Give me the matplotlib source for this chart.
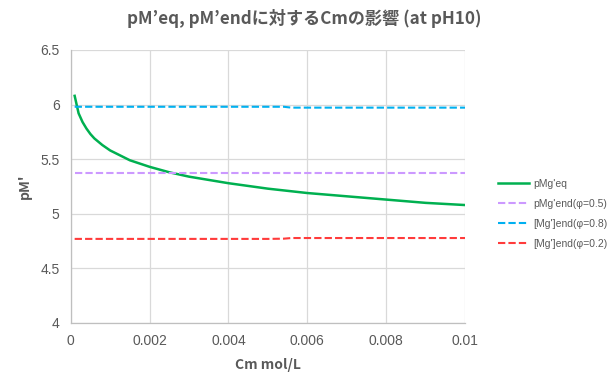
import numpy as np
import matplotlib
matplotlib.use("Agg")
from matplotlib import pyplot as plt

# data
cm = [0.0001, 0.0002, 0.0003, 0.0004, 0.0005, 0.0006, 0.0008, 0.001, 0.0015,
      0.002, 0.0025, 0.003, 0.004, 0.005, 0.006, 0.007, 0.008, 0.009, 0.01]
pm_eq = [6.08, 5.92, 5.84, 5.78, 5.73, 5.69, 5.63, 5.58, 5.49,
         5.43, 5.38, 5.34, 5.28, 5.23, 5.19, 5.16, 5.13, 5.10, 5.08]

cm_end = [0.0001, 0.001, 0.002, 0.003, 0.004, 0.005, 0.0054, 0.0056, 0.007, 0.008, 0.009, 0.01]
pm_end05 = [5.375] * len(cm_end)
pm_end08 = [5.98, 5.98, 5.98, 5.98, 5.98, 5.98, 5.98, 5.972, 5.972, 5.972, 5.972, 5.972]
pm_end02 = [4.77, 4.77, 4.77, 4.77, 4.77, 4.77, 4.772, 4.778, 4.778, 4.778, 4.778, 4.778]

labels = ["pMg'eq", "pMg'end(φ=0.5)", "[Mg']end(φ=0.8)", "[Mg']end(φ=0.2)"]
xticks = [0, 0.002, 0.004, 0.006, 0.008, 0.01]
xticklabels = ["0", "0.002", "0.004", "0.006", "0.008", "0.01"]
yticks = [4, 4.5, 5, 5.5, 6, 6.5]
yticklabels = ["4", "4.5", "5", "5.5", "6", "6.5"]

txt = "#595959"
fam = ["Noto Sans CJK JP", "DejaVu Sans"]
plt.rcParams['font.family'] = ["Liberation Sans", "DejaVu Sans"]

fig = plt.figure(figsize=(6.08, 3.83), dpi=100)
ax = fig.add_axes([0.1163, 0.1567, 0.765 - 0.1163, 0.8695 - 0.1567])

ax.plot(cm, pm_eq, '-', color="#00B050", linewidth=1.8, label=labels[0])
ax.plot(cm_end, pm_end05, '--', color="#CC99FF", linewidth=1.5, dashes=(3.5, 1.5), label=labels[1])
ax.plot(cm_end, pm_end08, '--', color="#00B0F0", linewidth=1.5, dashes=(3.5, 1.5), label=labels[2])
ax.plot(cm_end, pm_end02, '--', color="#FF3B3B", linewidth=1.5, dashes=(3.5, 1.5), label=labels[3])

ax.set_xlim(0, 0.01)
ax.set_ylim(4, 6.5)
ax.set_xticks(xticks)
ax.set_xticklabels(xticklabels)
ax.set_yticks(yticks)
ax.set_yticklabels(yticklabels)
ax.tick_params(length=0, labelsize=10, colors=txt, pad=8)
ax.grid(color="#D9D9D9", linewidth=0.9)
ax.set_axisbelow(True)
for s in ["top", "right"]:
    ax.spines[s].set_visible(False)
for s in ["left", "bottom"]:
    ax.spines[s].set_color("#BFBFBF")
    ax.spines[s].set_linewidth(0.9)

ax.set_xlabel("Cm mol/L", fontsize=10, fontweight="bold", color=txt, labelpad=7, family=fam)
ax.set_ylabel("pM'", fontsize=10, fontweight="bold", color=txt, labelpad=6, family=fam)

fig.text(0.5, 0.952, "pM’eq, pM’endに対するCmの影響 (at pH10)", ha="center", va="center",
         fontsize=12.3, fontweight="bold", color=txt, family=fam)

leg = ax.legend(loc="center left", bbox_to_anchor=(1.06, 0.40), frameon=False,
                fontsize=7.5, handlelength=3.0, labelspacing=0.95, handletextpad=0.4)
for t in leg.get_texts():
    t.set_color(txt)

fig.savefig("out.png", dpi=100)
plt.close(fig)
